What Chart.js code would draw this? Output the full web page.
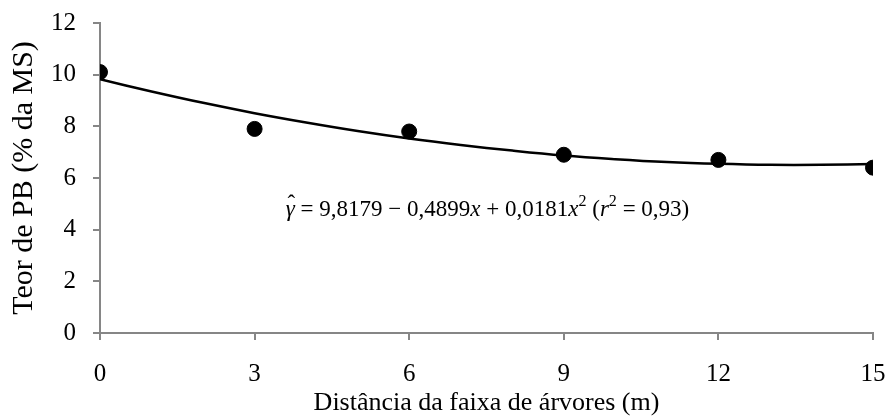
<!DOCTYPE html>
<html lang="pt">
<head>
  <meta charset="UTF-8">
  <title>Teor de PB</title>
  <style>
    * { margin: 0; padding: 0; box-sizing: border-box; }
    body { width: 888px; height: 416px; background: #fff; overflow: hidden; }
    .wrap { position: relative; width: 888px; height: 416px; }
  </style>
</head>
<body>
  <div class="wrap"><canvas id="pbChart"></canvas></div>

  <script src="https://cdn.jsdelivr.net/npm/chart.js"></script>
  <script>
    // observed values
    const distances = [0, 3, 6, 9, 12, 15];
    const teorPB = [10.1, 7.9, 7.8, 6.9, 6.7, 6.4];

    // fitted curve, read at each metre
    const curveX = [0, 1, 2, 3, 4, 5, 6, 7, 8, 9, 10, 11, 12, 13, 14, 15];
    const curveY = [9.82, 9.35, 8.91, 8.51, 8.15, 7.82, 7.53, 7.28, 7.06, 6.87, 6.73, 6.62, 6.55, 6.51, 6.51, 6.54];

    const xTicks = [0, 3, 6, 9, 12, 15];
    const yTicks = [0, 2, 4, 6, 8, 10, 12];

    const axisGrey = '#868686';
    const serif = '"Liberation Serif", "Times New Roman", serif';

    // equation label, pieces: [text, italic, superscript]
    const eqParts = [
      ['\u03B3', true, false],
      [' = 9,8179 \u2212 0,4899', false, false],
      ['x', true, false],
      [' + 0,0181', false, false],
      ['x', true, false],
      ['2', false, true],
      [' (', false, false],
      ['r', true, false],
      ['2', false, true],
      [' = 0,93)', false, false]
    ];

    const equationLabel = {
      id: 'equationLabel',
      afterDatasetsDraw(chart) {
        const ctx = chart.ctx;
        const size = 23;
        const cx = chart.scales.x.getPixelForValue(7.52);
        const cy = chart.scales.y.getPixelForValue(4.76);
        ctx.save();
        ctx.fillStyle = '#000';
        ctx.textBaseline = 'middle';
        const fontFor = p => (p[1] ? 'italic ' : '') + (p[2] ? size * 0.7 : size) + 'px ' + serif;
        let total = 0;
        eqParts.forEach(p => { ctx.font = fontFor(p); total += ctx.measureText(p[0]).width; });
        let x = cx - total / 2;
        eqParts.forEach((p, i) => {
          ctx.font = fontFor(p);
          const w = ctx.measureText(p[0]).width;
          ctx.fillText(p[0], x, p[2] ? cy - size * 0.35 : cy);
          if (i === 0) {
            // hat over gamma
            ctx.font = size + 'px ' + serif;
            ctx.textAlign = 'center';
            ctx.fillText('\u02C6', x + w / 2 + 1, cy - size * 0.2);
            ctx.textAlign = 'left';
          }
          x += w;
        });
        ctx.restore();
      }
    };

    new Chart(document.getElementById('pbChart'), {
      type: 'scatter',
      data: {
        datasets: [
          {
            label: 'Ajuste',
            data: curveX.map((x, i) => ({ x: x, y: curveY[i] })),
            showLine: true,
            borderColor: '#000',
            borderWidth: 2.5,
            pointRadius: 0,
            tension: 0.4,
            order: 2
          },
          {
            label: 'Teor de PB',
            data: distances.map((x, i) => ({ x: x, y: teorPB[i] })),
            backgroundColor: '#000',
            borderColor: '#000',
            pointRadius: 7.5,
            order: 1
          }
        ]
      },
      options: {
        responsive: true,
        maintainAspectRatio: false,
        animation: false,
        layout: { autoPadding: false, padding: { left: 0, right: 15, top: 23, bottom: 0 } },
        plugins: { legend: { display: false }, tooltip: { enabled: false } },
        scales: {
          x: {
            type: 'linear',
            min: 0,
            max: 15,
            afterFit: s => { s.height = 83; s.paddingLeft = 0; s.paddingRight = 0; },
            afterBuildTicks: s => { s.ticks = xTicks.map(v => ({ value: v })); },
            grid: { drawOnChartArea: false, color: axisGrey, lineWidth: 2, tickLength: 7 },
            border: { color: axisGrey, width: 2 },
            ticks: { color: '#000', padding: 19, maxRotation: 0, font: { family: serif, size: 25 } },
            title: {
              display: true,
              text: 'Distância da faixa de árvores (m)',
              color: '#000',
              padding: { top: 0, bottom: 0 },
              font: { family: serif, size: 26, lineHeight: 1 }
            }
          },
          y: {
            min: 0,
            max: 12,
            afterFit: s => { s.width = 100; s.paddingTop = 0; s.paddingBottom = 0; },
            afterBuildTicks: s => { s.ticks = yTicks.map(v => ({ value: v })); },
            grid: { drawOnChartArea: false, color: axisGrey, lineWidth: 2, tickLength: 7 },
            border: { color: axisGrey, width: 2 },
            ticks: { color: '#000', padding: 17, font: { family: serif, size: 25 } },
            title: {
              display: true,
              text: 'Teor de PB (% da MS)',
              color: '#000',
              padding: { top: 9, bottom: 0 },
              font: { family: serif, size: 30, lineHeight: 1 }
            }
          }
        }
      },
      plugins: [equationLabel]
    });
  </script>
</body>
</html>
